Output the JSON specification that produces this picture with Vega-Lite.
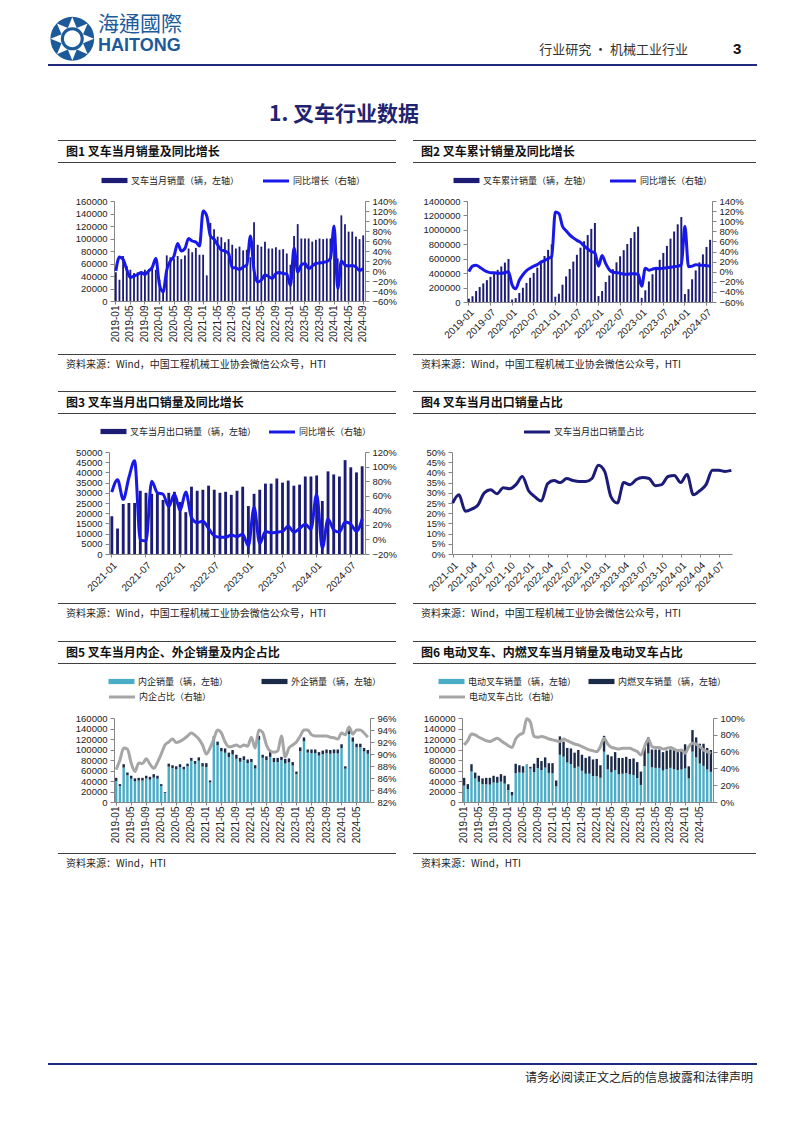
{
"$schema":"https://vega.github.io/schema/vega-lite/v6.json",
"padding":{"left":48,"top":14,"right":0,"bottom":0},
"background":"white",
"config":{
 "font":"Noto Sans CJK SC",
 "view":{"stroke":null},
 "axis":{"grid":false,"domainColor":"#858585","tickColor":"#858585","labelColor":"#222222","labelFont":"Liberation Sans","tickSize":3,"domainWidth":1},
 "axisX":{"labelFontSize":10,"labelPadding":2},
 "axisY":{"labelFontSize":9.5,"labelPadding":3,"tickSize":4},
 "legend":{"labelFont":"Noto Sans CJK SC","labelFontSize":9,"labelColor":"#222222","labelLimit":300},
 "title":{"font":"Noto Sans CJK SC","color":"#111111"}
},
"datasets":{
"d1":[
{"m":"2019-01","v":46000,"g":0.00},{"m":"2019-02","v":34000,"g":0.28},{"m":"2019-03","v":72000,"g":0.23},{"m":"2019-04","v":56000,"g":0.03},{"m":"2019-05","v":50000,"g":-0.13},{"m":"2019-06","v":45000,"g":-0.10},{"m":"2019-07","v":46000,"g":-0.07},{"m":"2019-08","v":46000,"g":-0.03},{"m":"2019-09","v":50000,"g":-0.07},{"m":"2019-10","v":48000,"g":0.00},{"m":"2019-11","v":53000,"g":0.07},{"m":"2019-12","v":50000,"g":0.25},
{"m":"2020-01","v":34000,"g":-0.27},{"m":"2020-02","v":19000,"g":-0.42},{"m":"2020-03","v":73000,"g":0.02},{"m":"2020-04","v":70000,"g":0.20},{"m":"2020-05","v":68000,"g":0.30},{"m":"2020-06","v":72000,"g":0.55},{"m":"2020-07","v":67000,"g":0.40},{"m":"2020-08","v":73000,"g":0.45},{"m":"2020-09","v":84000,"g":0.65},{"m":"2020-10","v":78000,"g":0.60},{"m":"2020-11","v":85000,"g":0.58},{"m":"2020-12","v":74000,"g":0.50},
{"m":"2021-01","v":74000,"g":1.20},{"m":"2021-02","v":41000,"g":1.10},{"m":"2021-03","v":125000,"g":0.70},{"m":"2021-04","v":115000,"g":0.64},{"m":"2021-05","v":103000,"g":0.52},{"m":"2021-06","v":102000,"g":0.42},{"m":"2021-07","v":94000,"g":0.40},{"m":"2021-08","v":99000,"g":0.35},{"m":"2021-09","v":90000,"g":0.07},{"m":"2021-10","v":84000,"g":0.06},{"m":"2021-11","v":87000,"g":0.03},{"m":"2021-12","v":81000,"g":0.08},
{"m":"2022-01","v":82000,"g":0.12},{"m":"2022-02","v":70000,"g":0.70},{"m":"2022-03","v":126000,"g":0.01},{"m":"2022-04","v":90000,"g":-0.22},{"m":"2022-05","v":87000,"g":-0.18},{"m":"2022-06","v":95000,"g":-0.08},{"m":"2022-07","v":84000,"g":-0.11},{"m":"2022-08","v":84000,"g":-0.15},{"m":"2022-09","v":86000,"g":-0.05},{"m":"2022-10","v":82000,"g":-0.03},{"m":"2022-11","v":83000,"g":-0.05},{"m":"2022-12","v":76000,"g":-0.06},
{"m":"2023-01","v":58000,"g":-0.29},{"m":"2023-02","v":104000,"g":0.46},{"m":"2023-03","v":123000,"g":-0.02},{"m":"2023-04","v":100000,"g":0.12},{"m":"2023-05","v":100000,"g":0.15},{"m":"2023-06","v":100000,"g":0.05},{"m":"2023-07","v":95000,"g":0.10},{"m":"2023-08","v":98000,"g":0.15},{"m":"2023-09","v":100000,"g":0.16},{"m":"2023-10","v":99000,"g":0.17},{"m":"2023-11","v":100000,"g":0.19},{"m":"2023-12","v":100000,"g":0.25},
{"m":"2024-01","v":110000,"g":0.90},{"m":"2024-02","v":68000,"g":-0.35},{"m":"2024-03","v":137000,"g":0.20},{"m":"2024-04","v":123000,"g":0.12},{"m":"2024-05","v":111000,"g":0.10},{"m":"2024-06","v":111000,"g":0.11},{"m":"2024-07","v":103000,"g":0.08},{"m":"2024-08","v":99000,"g":0.01},{"m":"2024-09","v":105000,"g":0.05}
],
"d2":[
{"m":"2019-01","c":46000,"g":0.00},{"m":"2019-02","c":80000,"g":0.11},{"m":"2019-03","c":152000,"g":0.13},{"m":"2019-04","c":208000,"g":0.09},{"m":"2019-05","c":258000,"g":0.04},{"m":"2019-06","c":303000,"g":0.00},{"m":"2019-07","c":349000,"g":-0.02},{"m":"2019-08","c":395000,"g":-0.02},{"m":"2019-09","c":445000,"g":-0.03},{"m":"2019-10","c":493000,"g":-0.03},{"m":"2019-11","c":546000,"g":-0.02},{"m":"2019-12","c":596000,"g":0.00},
{"m":"2020-01","c":34000,"g":-0.26},{"m":"2020-02","c":53000,"g":-0.34},{"m":"2020-03","c":126000,"g":-0.17},{"m":"2020-04","c":196000,"g":-0.06},{"m":"2020-05","c":264000,"g":0.02},{"m":"2020-06","c":336000,"g":0.07},{"m":"2020-07","c":403000,"g":0.11},{"m":"2020-08","c":476000,"g":0.14},{"m":"2020-09","c":560000,"g":0.19},{"m":"2020-10","c":638000,"g":0.22},{"m":"2020-11","c":723000,"g":0.26},{"m":"2020-12","c":797000,"g":0.30},
{"m":"2021-01","c":74000,"g":1.18},{"m":"2021-02","c":115000,"g":1.15},{"m":"2021-03","c":240000,"g":0.90},{"m":"2021-04","c":355000,"g":0.81},{"m":"2021-05","c":458000,"g":0.73},{"m":"2021-06","c":560000,"g":0.67},{"m":"2021-07","c":654000,"g":0.62},{"m":"2021-08","c":753000,"g":0.58},{"m":"2021-09","c":843000,"g":0.51},{"m":"2021-10","c":927000,"g":0.45},{"m":"2021-11","c":1014000,"g":0.40},{"m":"2021-12","c":1095000,"g":0.37},
{"m":"2022-01","c":82000,"g":0.11},{"m":"2022-02","c":152000,"g":0.32},{"m":"2022-03","c":278000,"g":0.16},{"m":"2022-04","c":368000,"g":0.04},{"m":"2022-05","c":455000,"g":-0.01},{"m":"2022-06","c":550000,"g":-0.02},{"m":"2022-07","c":634000,"g":-0.03},{"m":"2022-08","c":718000,"g":-0.05},{"m":"2022-09","c":804000,"g":-0.05},{"m":"2022-10","c":886000,"g":-0.04},{"m":"2022-11","c":969000,"g":-0.04},{"m":"2022-12","c":1045000,"g":-0.05},
{"m":"2023-01","c":58000,"g":-0.29},{"m":"2023-02","c":162000,"g":0.07},{"m":"2023-03","c":285000,"g":0.03},{"m":"2023-04","c":385000,"g":0.05},{"m":"2023-05","c":485000,"g":0.07},{"m":"2023-06","c":585000,"g":0.06},{"m":"2023-07","c":680000,"g":0.07},{"m":"2023-08","c":778000,"g":0.08},{"m":"2023-09","c":878000,"g":0.09},{"m":"2023-10","c":977000,"g":0.10},{"m":"2023-11","c":1077000,"g":0.11},{"m":"2023-12","c":1177000,"g":0.13},
{"m":"2024-01","c":110000,"g":0.90},{"m":"2024-02","c":178000,"g":0.10},{"m":"2024-03","c":315000,"g":0.11},{"m":"2024-04","c":438000,"g":0.14},{"m":"2024-05","c":549000,"g":0.13},{"m":"2024-06","c":660000,"g":0.13},{"m":"2024-07","c":763000,"g":0.12},{"m":"2024-08","c":862000,"g":0.11}
],
"d3":[
{"m":"2021-01","x":18500,"g":0.65},{"m":"2021-02","x":12500,"g":0.82},{"m":"2021-03","x":24500,"g":0.55},{"m":"2021-04","x":25000,"g":0.85},{"m":"2021-05","x":25000,"g":1.08},{"m":"2021-06","x":31000,"g":-0.01},{"m":"2021-07","x":30000,"g":-0.02},{"m":"2021-08","x":29500,"g":0.80},{"m":"2021-09","x":29500,"g":0.64},{"m":"2021-10","x":26500,"g":0.62},{"m":"2021-11","x":30000,"g":0.45},{"m":"2021-12","x":30500,"g":0.62},
{"m":"2022-01","x":25500,"g":0.40},{"m":"2022-02","x":20500,"g":0.65},{"m":"2022-03","x":33000,"g":0.30},{"m":"2022-04","x":31000,"g":0.23},{"m":"2022-05","x":31500,"g":0.25},{"m":"2022-06","x":33500,"g":0.15},{"m":"2022-07","x":31500,"g":0.05},{"m":"2022-08","x":30000,"g":0.03},{"m":"2022-09","x":30500,"g":0.03},{"m":"2022-10","x":29000,"g":0.06},{"m":"2022-11","x":31000,"g":0.04},{"m":"2022-12","x":33000,"g":0.07},
{"m":"2023-01","x":23500,"g":-0.09},{"m":"2023-02","x":29500,"g":0.44},{"m":"2023-03","x":31500,"g":-0.06},{"m":"2023-04","x":34500,"g":0.11},{"m":"2023-05","x":34500,"g":0.09},{"m":"2023-06","x":37000,"g":0.10},{"m":"2023-07","x":35000,"g":0.11},{"m":"2023-08","x":36000,"g":0.18},{"m":"2023-09","x":33500,"g":0.10},{"m":"2023-10","x":34000,"g":0.15},{"m":"2023-11","x":38000,"g":0.21},{"m":"2023-12","x":38000,"g":0.14},
{"m":"2024-01","x":38500,"g":0.62},{"m":"2024-02","x":26000,"g":-0.12},{"m":"2024-03","x":40500,"g":0.28},{"m":"2024-04","x":39000,"g":0.13},{"m":"2024-05","x":38000,"g":0.10},{"m":"2024-06","x":46000,"g":0.24},{"m":"2024-07","x":42500,"g":0.21},{"m":"2024-08","x":40000,"g":0.11},{"m":"2024-09","x":43000,"g":0.28}
],
"d4":[
{"m":"2021-01","s":0.25},{"m":"2021-02","s":0.29},{"m":"2021-03","s":0.21},{"m":"2021-04","s":0.22},{"m":"2021-05","s":0.24},{"m":"2021-06","s":0.30},{"m":"2021-07","s":0.315},{"m":"2021-08","s":0.295},{"m":"2021-09","s":0.325},{"m":"2021-10","s":0.32},{"m":"2021-11","s":0.34},{"m":"2021-12","s":0.38},
{"m":"2022-01","s":0.31},{"m":"2022-02","s":0.28},{"m":"2022-03","s":0.26},{"m":"2022-04","s":0.345},{"m":"2022-05","s":0.36},{"m":"2022-06","s":0.35},{"m":"2022-07","s":0.37},{"m":"2022-08","s":0.36},{"m":"2022-09","s":0.355},{"m":"2022-10","s":0.355},{"m":"2022-11","s":0.37},{"m":"2022-12","s":0.435},
{"m":"2023-01","s":0.405},{"m":"2023-02","s":0.28},{"m":"2023-03","s":0.25},{"m":"2023-04","s":0.35},{"m":"2023-05","s":0.34},{"m":"2023-06","s":0.365},{"m":"2023-07","s":0.375},{"m":"2023-08","s":0.37},{"m":"2023-09","s":0.335},{"m":"2023-10","s":0.34},{"m":"2023-11","s":0.38},{"m":"2023-12","s":0.385},
{"m":"2024-01","s":0.35},{"m":"2024-02","s":0.39},{"m":"2024-03","s":0.29},{"m":"2024-04","s":0.31},{"m":"2024-05","s":0.34},{"m":"2024-06","s":0.41},{"m":"2024-07","s":0.41},{"m":"2024-08","s":0.405},{"m":"2024-09","s":0.41}
],
"d5":[
{"m":"2019-01","a":40200,"t":46000,"r":0.874},{"m":"2019-02","a":30300,"t":34000,"r":0.89},{"m":"2019-03","a":65500,"t":72000,"r":0.91},{"m":"2019-04","a":50800,"t":56000,"r":0.908},{"m":"2019-05","a":44300,"t":50000,"r":0.885},{"m":"2019-06","a":39200,"t":45000,"r":0.871},{"m":"2019-07","a":40700,"t":46000,"r":0.885},{"m":"2019-08","a":40700,"t":46000,"r":0.884},{"m":"2019-09","a":44600,"t":50000,"r":0.892},{"m":"2019-10","a":42400,"t":48000,"r":0.883},{"m":"2019-11","a":46400,"t":53000,"r":0.876},{"m":"2019-12","a":44300,"t":50000,"r":0.886},
{"m":"2020-01","a":30600,"t":34000,"r":0.90},{"m":"2020-02","a":17400,"t":19000,"r":0.915},{"m":"2020-03","a":67200,"t":73000,"r":0.92},{"m":"2020-04","a":64800,"t":70000,"r":0.925},{"m":"2020-05","a":62500,"t":68000,"r":0.919},{"m":"2020-06","a":66300,"t":72000,"r":0.921},{"m":"2020-07","a":62000,"t":67000,"r":0.925},{"m":"2020-08","a":67900,"t":73000,"r":0.93},{"m":"2020-09","a":78500,"t":84000,"r":0.935},{"m":"2020-10","a":72600,"t":78000,"r":0.931},{"m":"2020-11","a":78600,"t":85000,"r":0.925},{"m":"2020-12","a":67700,"t":74000,"r":0.915},
{"m":"2021-01","a":66600,"t":74000,"r":0.90},{"m":"2021-02","a":37300,"t":41000,"r":0.91},{"m":"2021-03","a":115600,"t":125000,"r":0.925},{"m":"2021-04","a":108100,"t":115000,"r":0.94},{"m":"2021-05","a":96300,"t":103000,"r":0.935},{"m":"2021-06","a":93800,"t":102000,"r":0.92},{"m":"2021-07","a":85700,"t":94000,"r":0.912},{"m":"2021-08","a":90400,"t":99000,"r":0.913},{"m":"2021-09","a":82400,"t":90000,"r":0.915},{"m":"2021-10","a":76600,"t":84000,"r":0.912},{"m":"2021-11","a":79600,"t":87000,"r":0.915},{"m":"2021-12","a":74000,"t":81000,"r":0.913},
{"m":"2022-01","a":76100,"t":82000,"r":0.928},{"m":"2022-02","a":63700,"t":70000,"r":0.91},{"m":"2022-03","a":118400,"t":126000,"r":0.94},{"m":"2022-04","a":84200,"t":90000,"r":0.936},{"m":"2022-05","a":79600,"t":87000,"r":0.915},{"m":"2022-06","a":86000,"t":95000,"r":0.905},{"m":"2022-07","a":75900,"t":84000,"r":0.903},{"m":"2022-08","a":76000,"t":84000,"r":0.905},{"m":"2022-09","a":80000,"t":86000,"r":0.93},{"m":"2022-10","a":73400,"t":82000,"r":0.895},{"m":"2022-11","a":75500,"t":83000,"r":0.91},{"m":"2022-12","a":69500,"t":76000,"r":0.915},
{"m":"2023-01","a":53400,"t":58000,"r":0.92},{"m":"2023-02","a":96700,"t":104000,"r":0.93},{"m":"2023-03","a":115600,"t":123000,"r":0.94},{"m":"2023-04","a":94000,"t":100000,"r":0.94},{"m":"2023-05","a":93200,"t":100000,"r":0.932},{"m":"2023-06","a":93000,"t":100000,"r":0.93},{"m":"2023-07","a":88400,"t":95000,"r":0.93},{"m":"2023-08","a":91100,"t":98000,"r":0.93},{"m":"2023-09","a":93000,"t":100000,"r":0.93},{"m":"2023-10","a":91900,"t":99000,"r":0.928},{"m":"2023-11","a":92700,"t":100000,"r":0.927},{"m":"2023-12","a":92500,"t":100000,"r":0.925},
{"m":"2024-01","a":102900,"t":110000,"r":0.935},{"m":"2024-02","a":63400,"t":68000,"r":0.932},{"m":"2024-03","a":129500,"t":137000,"r":0.945},{"m":"2024-04","a":114800,"t":123000,"r":0.933},{"m":"2024-05","a":104300,"t":111000,"r":0.94},{"m":"2024-06","a":104300,"t":111000,"r":0.94},{"m":"2024-07","a":96300,"t":103000,"r":0.935},{"m":"2024-08","a":91900,"t":99000,"r":0.928}
],
"d6":[
{"m":"2019-01","e":31300,"t":46000,"r":0.68},{"m":"2019-02","e":24800,"t":34000,"r":0.73},{"m":"2019-03","e":58300,"t":72000,"r":0.81},{"m":"2019-04","e":44800,"t":56000,"r":0.80},{"m":"2019-05","e":38500,"t":50000,"r":0.77},{"m":"2019-06","e":33800,"t":45000,"r":0.75},{"m":"2019-07","e":33600,"t":46000,"r":0.73},{"m":"2019-08","e":33100,"t":46000,"r":0.72},{"m":"2019-09","e":37000,"t":50000,"r":0.74},{"m":"2019-10","e":36500,"t":48000,"r":0.76},{"m":"2019-11","e":38700,"t":53000,"r":0.73},{"m":"2019-12","e":35000,"t":50000,"r":0.70},
{"m":"2020-01","e":22800,"t":34000,"r":0.67},{"m":"2020-02","e":12400,"t":19000,"r":0.65},{"m":"2020-03","e":54800,"t":73000,"r":0.75},{"m":"2020-04","e":56000,"t":70000,"r":0.80},{"m":"2020-05","e":55800,"t":68000,"r":0.82},{"m":"2020-06","e":71300,"t":72000,"r":0.99},{"m":"2020-07","e":63700,"t":67000,"r":0.95},{"m":"2020-08","e":56900,"t":73000,"r":0.78},{"m":"2020-09","e":64700,"t":84000,"r":0.77},{"m":"2020-10","e":60800,"t":78000,"r":0.78},{"m":"2020-11","e":65500,"t":85000,"r":0.77},{"m":"2020-12","e":55500,"t":74000,"r":0.75},
{"m":"2021-01","e":54800,"t":74000,"r":0.74},{"m":"2021-02","e":29900,"t":41000,"r":0.73},{"m":"2021-03","e":90000,"t":125000,"r":0.72},{"m":"2021-04","e":86300,"t":115000,"r":0.75},{"m":"2021-05","e":75200,"t":103000,"r":0.73},{"m":"2021-06","e":72400,"t":102000,"r":0.71},{"m":"2021-07","e":64900,"t":94000,"r":0.69},{"m":"2021-08","e":67300,"t":99000,"r":0.68},{"m":"2021-09","e":59400,"t":90000,"r":0.66},{"m":"2021-10","e":53800,"t":84000,"r":0.64},{"m":"2021-11","e":53900,"t":87000,"r":0.62},{"m":"2021-12","e":49400,"t":81000,"r":0.61},
{"m":"2022-01","e":49200,"t":82000,"r":0.60},{"m":"2022-02","e":46200,"t":70000,"r":0.66},{"m":"2022-03","e":95800,"t":126000,"r":0.76},{"m":"2022-04","e":62100,"t":90000,"r":0.69},{"m":"2022-05","e":56600,"t":87000,"r":0.65},{"m":"2022-06","e":60800,"t":95000,"r":0.64},{"m":"2022-07","e":52900,"t":84000,"r":0.63},{"m":"2022-08","e":53800,"t":84000,"r":0.64},{"m":"2022-09","e":55000,"t":86000,"r":0.64},{"m":"2022-10","e":52500,"t":82000,"r":0.64},{"m":"2022-11","e":51500,"t":83000,"r":0.62},{"m":"2022-12","e":45600,"t":76000,"r":0.60},
{"m":"2023-01","e":32500,"t":58000,"r":0.56},{"m":"2023-02","e":68600,"t":104000,"r":0.66},{"m":"2023-03","e":92300,"t":123000,"r":0.75},{"m":"2023-04","e":66000,"t":100000,"r":0.66},{"m":"2023-05","e":65000,"t":100000,"r":0.65},{"m":"2023-06","e":65000,"t":100000,"r":0.65},{"m":"2023-07","e":59900,"t":95000,"r":0.63},{"m":"2023-08","e":62700,"t":98000,"r":0.64},{"m":"2023-09","e":65000,"t":100000,"r":0.65},{"m":"2023-10","e":62400,"t":99000,"r":0.63},{"m":"2023-11","e":61000,"t":100000,"r":0.61},{"m":"2023-12","e":62000,"t":100000,"r":0.62},
{"m":"2024-01","e":63800,"t":110000,"r":0.58},{"m":"2024-02","e":44900,"t":68000,"r":0.66},{"m":"2024-03","e":95900,"t":137000,"r":0.70},{"m":"2024-04","e":84900,"t":123000,"r":0.69},{"m":"2024-05","e":73300,"t":111000,"r":0.66},{"m":"2024-06","e":68800,"t":111000,"r":0.62},{"m":"2024-07","e":61800,"t":103000,"r":0.60},{"m":"2024-08","e":57400,"t":99000,"r":0.58}
],
"none":[]
},
"spacing":0,
"resolve":{"scale":{"color":"independent","stroke":"independent","fill":"independent"},"legend":{"color":"independent","stroke":"independent","fill":"independent"}},
"vconcat":[
{"hconcat":[
 {"width":41,"height":2,"data":{"name":"none"},"mark":"text","encoding":{"text":{"value":""}},"view":{"fill":"#202a7d","stroke":null},"title":{"text":"❂","font":"DejaVu Sans","fontSize":58,"fontWeight":"normal","color":"#1d5a9a","anchor":"start","dx":0,"offset":-8}},
 {"width":300,"height":2,"data":{"name":"none"},"mark":"text","encoding":{"text":{"value":""}},"view":{"fill":"#202a7d","stroke":null},"title":{"text":"海通國際","subtitle":"HAITONG","font":"Noto Sans CJK TC","fontSize":21,"fontWeight":"normal","color":"#1d5a9a","anchor":"start","dx":9,"offset":9,"subtitleFont":"Liberation Sans","subtitleFontSize":18,"subtitleFontWeight":"bold","subtitleColor":"#1d5a9a","subtitlePadding":2}},
 {"width":301,"height":2,"data":{"name":"none"},"mark":"text","encoding":{"text":{"value":""}},"view":{"fill":"#202a7d","stroke":null},"title":{"text":"行业研究 • 机械工业行业","fontSize":13,"fontWeight":"normal","color":"#333333","anchor":"end","dx":-2,"offset":7}},
 {"width":67,"height":2,"data":{"name":"none"},"mark":"text","encoding":{"text":{"value":""}},"view":{"fill":"#202a7d","stroke":null},"title":{"text":"3","font":"Liberation Sans","fontSize":15,"fontWeight":"bold","color":"#111111","anchor":"start","dx":43,"offset":7}}
],"spacing":0,"bounds":"flush"},
{"width":709,"height":30,"data":{"name":"none"},"mark":"text","encoding":{"text":{"value":""}},"title":{"text":"1.  叉车行业数据","orient":"bottom","anchor":"start","dx":221,"offset":2,"fontSize":21,"fontWeight":"bold","color":"#1f2370"}},
{"width":1,"height":15,"data":{"name":"none"},"mark":"text","encoding":{"text":{"value":""}}},
{"vconcat":[
 {"hconcat":[
  {"width":10,"height":1,"data":{"name":"none"},"mark":"text","encoding":{"text":{"value":""}}},
  {"width":338,"height":1,"data":{"name":"none"},"mark":"text","encoding":{"text":{"value":""}},"view":{"fill":"#404040","stroke":null},"title":{"text":"图1  叉车当月销量及同比增长","orient":"bottom","anchor":"start","dx":8,"offset":6,"fontSize":12,"fontWeight":"bold"}},
  {"width":17,"height":1,"data":{"name":"none"},"mark":"text","encoding":{"text":{"value":""}}},
  {"width":343,"height":1,"data":{"name":"none"},"mark":"text","encoding":{"text":{"value":""}},"view":{"fill":"#404040","stroke":null},"title":{"text":"图2  叉车累计销量及同比增长","orient":"bottom","anchor":"start","dx":8,"offset":6,"fontSize":12,"fontWeight":"bold"}}
 ],"spacing":0,"bounds":"flush"},
 {"hconcat":[
  {"width":10,"height":1,"data":{"name":"none"},"mark":"text","encoding":{"text":{"value":""}}},
  {"width":338,"height":1,"data":{"name":"none"},"mark":"text","encoding":{"text":{"value":""}},"view":{"fill":"#404040","stroke":null}},
  {"width":17,"height":1,"data":{"name":"none"},"mark":"text","encoding":{"text":{"value":""}}},
  {"width":343,"height":1,"data":{"name":"none"},"mark":"text","encoding":{"text":{"value":""}},"view":{"fill":"#404040","stroke":null}}
 ],"spacing":0,"bounds":"flush"},
 {"hconcat":[
  {"width":66,"height":1,"data":{"name":"none"},"mark":"text","encoding":{"text":{"value":""}}},
  {"width":251,"height":100,"data":{"name":"d1"},
   "encoding":{"x":{"field":"m","type":"ordinal","title":null,"scale":{"paddingInner":0.5,"paddingOuter":0.25},"axis":{"values":["2019-01","2019-05","2019-09","2020-01","2020-05","2020-09","2021-01","2021-05","2021-09","2022-01","2022-05","2022-09","2023-01","2023-05","2023-09","2024-01","2024-05","2024-09"],"labelAngle":-90,"labelPadding":1,"labelOverlap":false}}},
   "layer":[
    {"mark":{"type":"bar"},"encoding":{"y":{"field":"v","type":"quantitative","title":null,"scale":{"domain":[0,160000],"nice":false},"axis":{"orient":"left","values":[0,20000,40000,60000,80000,100000,120000,140000,160000],"format":"d"}},"color":{"datum":"叉车当月销量（辆，左轴）","scale":{"range":["#1c1c74"]},"legend":{"orient":"none","legendX":-19,"legendY":-34,"padding":6,"direction":"horizontal","title":null,"symbolType":"M-2,-0.4H2V0.4H-2Z","symbolSize":169,"symbolOffset":6,"labelOffset":9}}}},
    {"mark":{"type":"line","strokeWidth":3,"interpolate":"monotone"},"encoding":{"y":{"field":"g","type":"quantitative","title":null,"scale":{"domain":[-0.6,1.4],"nice":false,"zero":false},"axis":{"orient":"right","values":[-0.6,-0.4,-0.2,0,0.2,0.4,0.6,0.8,1,1.2,1.4],"format":".0%"}},"stroke":{"datum":"同比增长（右轴）","scale":{"range":["#1818e8"]},"legend":{"orient":"none","legendX":142,"legendY":-34,"padding":6,"direction":"horizontal","title":null,"symbolType":"M-2,0H2","symbolSize":169,"symbolStrokeWidth":3,"symbolOffset":6,"labelOffset":9}}}}
   ],
   "resolve":{"scale":{"y":"independent"}}},
  {"width":102,"height":1,"data":{"name":"none"},"mark":"text","encoding":{"text":{"value":""}}},
  {"width":245,"height":101,"data":{"name":"d2"},
   "encoding":{"x":{"field":"m","type":"ordinal","title":null,"scale":{"paddingInner":0.45,"paddingOuter":0.25},"axis":{"values":["2019-01","2019-07","2020-01","2020-07","2021-01","2021-07","2022-01","2022-07","2023-01","2023-07","2024-01","2024-07"],"labelAngle":-45,"labelOverlap":false}}},
   "layer":[
    {"mark":{"type":"bar"},"encoding":{"y":{"field":"c","type":"quantitative","title":null,"scale":{"domain":[0,1400000],"nice":false},"axis":{"orient":"left","values":[0,200000,400000,600000,800000,1000000,1200000,1400000],"format":"d"}},"color":{"datum":"叉车累计销量（辆，左轴）","scale":{"range":["#1c1c74"]},"legend":{"orient":"none","legendX":-20,"legendY":-34,"padding":6,"direction":"horizontal","title":null,"symbolType":"M-2,-0.4H2V0.4H-2Z","symbolSize":169,"symbolOffset":6,"labelOffset":9}}}},
    {"mark":{"type":"line","strokeWidth":3,"interpolate":"monotone"},"encoding":{"y":{"field":"g","type":"quantitative","title":null,"scale":{"domain":[-0.6,1.4],"nice":false,"zero":false},"axis":{"orient":"right","values":[-0.6,-0.4,-0.2,0,0.2,0.4,0.6,0.8,1,1.2,1.4],"format":".0%"}},"stroke":{"datum":"同比增长（右轴）","scale":{"range":["#1818e8"]},"legend":{"orient":"none","legendX":136,"legendY":-34,"padding":6,"direction":"horizontal","title":null,"symbolType":"M-2,0H2","symbolSize":169,"symbolStrokeWidth":3,"symbolOffset":6,"labelOffset":9}}}}
   ],
   "resolve":{"scale":{"y":"independent"}}}
 ],"spacing":0,"bounds":"flush","resolve":{"scale":{"color":"independent","stroke":"independent","fill":"independent"},"legend":{"color":"independent","stroke":"independent","fill":"independent"}}},
 {"width":1,"height":4,"data":{"name":"none"},"mark":"text","encoding":{"text":{"value":""}}},
 {"hconcat":[
  {"width":10,"height":1,"data":{"name":"none"},"mark":"text","encoding":{"text":{"value":""}}},
  {"width":338,"height":1,"data":{"name":"none"},"mark":"text","encoding":{"text":{"value":""}},"view":{"fill":"#404040","stroke":null},"title":{"text":"资料来源：Wind，中国工程机械工业协会微信公众号，HTI","orient":"bottom","anchor":"start","dx":8,"offset":5,"fontSize":10,"fontWeight":"normal","color":"#222222"}},
  {"width":17,"height":1,"data":{"name":"none"},"mark":"text","encoding":{"text":{"value":""}}},
  {"width":343,"height":1,"data":{"name":"none"},"mark":"text","encoding":{"text":{"value":""}},"view":{"fill":"#404040","stroke":null},"title":{"text":"资料来源：Wind，中国工程机械工业协会微信公众号，HTI","orient":"bottom","anchor":"start","dx":8,"offset":5,"fontSize":10,"fontWeight":"normal","color":"#222222"}}
 ],"spacing":0,"bounds":"flush"}
],"spacing":4,"resolve":{"scale":{"color":"independent","stroke":"independent","fill":"independent"},"legend":{"color":"independent","stroke":"independent","fill":"independent"}}},
{"width":1,"height":21,"data":{"name":"none"},"mark":"text","encoding":{"text":{"value":""}}},
{"vconcat":[
 {"hconcat":[
  {"width":10,"height":1,"data":{"name":"none"},"mark":"text","encoding":{"text":{"value":""}}},
  {"width":338,"height":1,"data":{"name":"none"},"mark":"text","encoding":{"text":{"value":""}},"view":{"fill":"#404040","stroke":null},"title":{"text":"图3  叉车当月出口销量及同比增长","orient":"bottom","anchor":"start","dx":8,"offset":6,"fontSize":12,"fontWeight":"bold"}},
  {"width":17,"height":1,"data":{"name":"none"},"mark":"text","encoding":{"text":{"value":""}}},
  {"width":343,"height":1,"data":{"name":"none"},"mark":"text","encoding":{"text":{"value":""}},"view":{"fill":"#404040","stroke":null},"title":{"text":"图4  叉车当月出口销量占比","orient":"bottom","anchor":"start","dx":8,"offset":6,"fontSize":12,"fontWeight":"bold"}}
 ],"spacing":0,"bounds":"flush"},
 {"hconcat":[
  {"width":10,"height":1,"data":{"name":"none"},"mark":"text","encoding":{"text":{"value":""}}},
  {"width":338,"height":1,"data":{"name":"none"},"mark":"text","encoding":{"text":{"value":""}},"view":{"fill":"#404040","stroke":null}},
  {"width":17,"height":1,"data":{"name":"none"},"mark":"text","encoding":{"text":{"value":""}}},
  {"width":343,"height":1,"data":{"name":"none"},"mark":"text","encoding":{"text":{"value":""}},"view":{"fill":"#404040","stroke":null}}
 ],"spacing":0,"bounds":"flush"},
 {"hconcat":[
  {"width":61,"height":1,"data":{"name":"none"},"mark":"text","encoding":{"text":{"value":""}}},
  {"width":256,"height":102,"data":{"name":"d3"},
   "encoding":{"x":{"field":"m","type":"ordinal","title":null,"scale":{"paddingInner":0.5,"paddingOuter":0.25},"axis":{"values":["2021-01","2021-07","2022-01","2022-07","2023-01","2023-07","2024-01","2024-07"],"labelAngle":-45,"labelPadding":3,"labelOverlap":false}}},
   "layer":[
    {"mark":{"type":"bar"},"encoding":{"y":{"field":"x","type":"quantitative","title":null,"scale":{"domain":[0,50000],"nice":false},"axis":{"orient":"left","values":[0,5000,10000,15000,20000,25000,30000,35000,40000,45000,50000],"format":"d"}},"color":{"datum":"叉车当月出口销量（辆，左轴）","scale":{"range":["#1c1c74"]},"legend":{"orient":"none","legendX":-15,"legendY":-34,"padding":6,"direction":"horizontal","title":null,"symbolType":"M-2,-0.4H2V0.4H-2Z","symbolSize":169,"symbolOffset":6,"labelOffset":9}}}},
    {"mark":{"type":"line","strokeWidth":3,"interpolate":"monotone"},"encoding":{"y":{"field":"g","type":"quantitative","title":null,"scale":{"domain":[-0.2,1.2],"nice":false,"zero":false},"axis":{"orient":"right","values":[-0.2,0,0.2,0.4,0.6,0.8,1,1.2],"format":".0%"}},"stroke":{"datum":"同比增长（右轴）","scale":{"range":["#1818e8"]},"legend":{"orient":"none","legendX":153,"legendY":-34,"padding":6,"direction":"horizontal","title":null,"symbolType":"M-2,0H2","symbolSize":169,"symbolStrokeWidth":3,"symbolOffset":6,"labelOffset":9}}}}
   ],
   "resolve":{"scale":{"y":"independent"}}},
  {"width":87,"height":1,"data":{"name":"none"},"mark":"text","encoding":{"text":{"value":""}}},
  {"width":280,"height":102,"data":{"name":"d4"},
   "mark":{"type":"line","strokeWidth":3,"interpolate":"monotone"},
   "encoding":{
    "x":{"field":"m","type":"ordinal","title":null,"scale":{"type":"point","padding":0.1},"axis":{"values":["2021-01","2021-04","2021-07","2021-10","2022-01","2022-04","2022-07","2022-10","2023-01","2023-04","2023-07","2023-10","2024-01","2024-04","2024-07"],"labelAngle":-45,"labelPadding":3,"labelOverlap":false}},
    "y":{"field":"s","type":"quantitative","title":null,"scale":{"domain":[0,0.5],"nice":false},"axis":{"values":[0,0.05,0.1,0.15,0.2,0.25,0.3,0.35,0.4,0.45,0.5],"format":".0%"}},
    "stroke":{"datum":"叉车当月出口销量占比","scale":{"range":["#1c1c78"]},"legend":{"orient":"none","legendX":65,"legendY":-34,"padding":6,"direction":"horizontal","title":null,"symbolType":"M-2,0H2","symbolSize":169,"symbolStrokeWidth":3,"symbolOffset":6,"labelOffset":9}}
   }}
 ],"spacing":0,"bounds":"flush","resolve":{"scale":{"color":"independent","stroke":"independent","fill":"independent"},"legend":{"color":"independent","stroke":"independent","fill":"independent"}}},
 {"width":1,"height":1,"data":{"name":"none"},"mark":"text","encoding":{"text":{"value":""}}},
 {"hconcat":[
  {"width":10,"height":1,"data":{"name":"none"},"mark":"text","encoding":{"text":{"value":""}}},
  {"width":338,"height":1,"data":{"name":"none"},"mark":"text","encoding":{"text":{"value":""}},"view":{"fill":"#404040","stroke":null},"title":{"text":"资料来源：Wind，中国工程机械工业协会微信公众号，HTI","orient":"bottom","anchor":"start","dx":8,"offset":5,"fontSize":10,"fontWeight":"normal","color":"#222222"}},
  {"width":17,"height":1,"data":{"name":"none"},"mark":"text","encoding":{"text":{"value":""}}},
  {"width":343,"height":1,"data":{"name":"none"},"mark":"text","encoding":{"text":{"value":""}},"view":{"fill":"#404040","stroke":null},"title":{"text":"资料来源：Wind，中国工程机械工业协会微信公众号，HTI","orient":"bottom","anchor":"start","dx":8,"offset":5,"fontSize":10,"fontWeight":"normal","color":"#222222"}}
 ],"spacing":0,"bounds":"flush"}
],"spacing":4,"resolve":{"scale":{"color":"independent","stroke":"independent","fill":"independent"},"legend":{"color":"independent","stroke":"independent","fill":"independent"}}},
{"width":1,"height":22,"data":{"name":"none"},"mark":"text","encoding":{"text":{"value":""}}},
{"vconcat":[
 {"hconcat":[
  {"width":10,"height":1,"data":{"name":"none"},"mark":"text","encoding":{"text":{"value":""}}},
  {"width":338,"height":1,"data":{"name":"none"},"mark":"text","encoding":{"text":{"value":""}},"view":{"fill":"#404040","stroke":null},"title":{"text":"图5  叉车当月内企、外企销量及内企占比","orient":"bottom","anchor":"start","dx":8,"offset":6,"fontSize":12,"fontWeight":"bold"}},
  {"width":17,"height":1,"data":{"name":"none"},"mark":"text","encoding":{"text":{"value":""}}},
  {"width":343,"height":1,"data":{"name":"none"},"mark":"text","encoding":{"text":{"value":""}},"view":{"fill":"#404040","stroke":null},"title":{"text":"图6  电动叉车、内燃叉车当月销量及电动叉车占比","orient":"bottom","anchor":"start","dx":8,"offset":6,"fontSize":12,"fontWeight":"bold"}}
 ],"spacing":0,"bounds":"flush"},
 {"hconcat":[
  {"width":10,"height":1,"data":{"name":"none"},"mark":"text","encoding":{"text":{"value":""}}},
  {"width":338,"height":1,"data":{"name":"none"},"mark":"text","encoding":{"text":{"value":""}},"view":{"fill":"#404040","stroke":null}},
  {"width":17,"height":1,"data":{"name":"none"},"mark":"text","encoding":{"text":{"value":""}}},
  {"width":343,"height":1,"data":{"name":"none"},"mark":"text","encoding":{"text":{"value":""}},"view":{"fill":"#404040","stroke":null}}
 ],"spacing":0,"bounds":"flush"},
 {"hconcat":[
  {"width":66,"height":1,"data":{"name":"none"},"mark":"text","encoding":{"text":{"value":""}}},
  {"width":256,"height":84,"data":{"name":"d5"},
   "encoding":{"x":{"field":"m","type":"ordinal","title":null,"scale":{"paddingInner":0.35,"paddingOuter":0.25},"axis":{"values":["2019-01","2019-05","2019-09","2020-01","2020-05","2020-09","2021-01","2021-05","2021-09","2022-01","2022-05","2022-09","2023-01","2023-05","2023-09","2024-01","2024-05"],"labelAngle":-90,"labelPadding":1,"labelOverlap":false}}},
   "layer":[
    {"mark":{"type":"bar"},"encoding":{"y":{"field":"a","type":"quantitative","title":null,"stack":null,"scale":{"domain":[0,160000],"nice":false},"axis":{"orient":"left","values":[0,20000,40000,60000,80000,100000,120000,140000,160000],"format":"d"}},"color":{"datum":"内企销量（辆，左轴）","scale":{"range":["#4bacc6"]},"legend":{"orient":"none","legendX":-12,"legendY":-50,"padding":6,"direction":"horizontal","title":null,"symbolType":"M-2,-0.4H2V0.4H-2Z","symbolSize":169,"symbolOffset":6,"labelOffset":9}}}},
    {"mark":{"type":"bar"},"encoding":{"y":{"field":"t","type":"quantitative","title":null,"scale":{"domain":[0,160000],"nice":false},"axis":null},"y2":{"field":"a"},"fill":{"datum":"外企销量（辆，左轴）","scale":{"range":["#1b2a47"]},"legend":{"orient":"none","legendX":141,"legendY":-50,"padding":6,"direction":"horizontal","title":null,"symbolType":"M-2,-0.4H2V0.4H-2Z","symbolSize":169,"symbolOffset":6,"labelOffset":9}}}},
    {"mark":{"type":"line","strokeWidth":3,"interpolate":"monotone"},"encoding":{"y":{"field":"r","type":"quantitative","title":null,"scale":{"domain":[0.82,0.96],"nice":false,"zero":false},"axis":{"orient":"right","values":[0.82,0.84,0.86,0.88,0.9,0.92,0.94,0.96],"format":".0%"}},"stroke":{"datum":"内企占比（右轴）","scale":{"range":["#a6a6a6"]},"legend":{"orient":"none","legendX":-6,"legendY":-29,"padding":0,"direction":"horizontal","title":null,"symbolType":"M-2,0H2","symbolSize":169,"symbolStrokeWidth":3,"symbolOffset":6,"labelOffset":9}}}}
   ],
   "resolve":{"scale":{"y":"independent"}}},
  {"width":92,"height":1,"data":{"name":"none"},"mark":"text","encoding":{"text":{"value":""}}},
  {"width":251,"height":84,"data":{"name":"d6"},
   "encoding":{"x":{"field":"m","type":"ordinal","title":null,"scale":{"paddingInner":0.35,"paddingOuter":0.25},"axis":{"values":["2019-01","2019-05","2019-09","2020-01","2020-05","2020-09","2021-01","2021-05","2021-09","2022-01","2022-05","2022-09","2023-01","2023-05","2023-09","2024-01","2024-05"],"labelAngle":-90,"labelPadding":1,"labelOverlap":false}}},
   "layer":[
    {"mark":{"type":"bar"},"encoding":{"y":{"field":"e","type":"quantitative","title":null,"stack":null,"scale":{"domain":[0,160000],"nice":false},"axis":{"orient":"left","values":[0,20000,40000,60000,80000,100000,120000,140000,160000],"format":"d"}},"color":{"datum":"电动叉车销量（辆，左轴）","scale":{"range":["#4bacc6"]},"legend":{"orient":"none","legendX":-30,"legendY":-50,"padding":6,"direction":"horizontal","title":null,"symbolType":"M-2,-0.4H2V0.4H-2Z","symbolSize":169,"symbolOffset":6,"labelOffset":9}}}},
    {"mark":{"type":"bar"},"encoding":{"y":{"field":"t","type":"quantitative","title":null,"scale":{"domain":[0,160000],"nice":false},"axis":null},"y2":{"field":"e"},"fill":{"datum":"内燃叉车销量（辆，左轴）","scale":{"range":["#1b2a47"]},"legend":{"orient":"none","legendX":120,"legendY":-50,"padding":6,"direction":"horizontal","title":null,"symbolType":"M-2,-0.4H2V0.4H-2Z","symbolSize":169,"symbolOffset":6,"labelOffset":9}}}},
    {"mark":{"type":"line","strokeWidth":3,"interpolate":"monotone"},"encoding":{"y":{"field":"r","type":"quantitative","title":null,"scale":{"domain":[0,1],"nice":false},"axis":{"orient":"right","values":[0,0.2,0.4,0.6,0.8,1],"format":".0%"}},"stroke":{"datum":"电动叉车占比（右轴）","scale":{"range":["#a6a6a6"]},"legend":{"orient":"none","legendX":-24,"legendY":-29,"padding":0,"direction":"horizontal","title":null,"symbolType":"M-2,0H2","symbolSize":169,"symbolStrokeWidth":3,"symbolOffset":6,"labelOffset":9}}}}
   ],
   "resolve":{"scale":{"y":"independent"}}}
 ],"spacing":0,"bounds":"flush","resolve":{"scale":{"color":"independent","stroke":"independent","fill":"independent"},"legend":{"color":"independent","stroke":"independent","fill":"independent"}}},
 {"width":1,"height":2,"data":{"name":"none"},"mark":"text","encoding":{"text":{"value":""}}},
 {"hconcat":[
  {"width":10,"height":1,"data":{"name":"none"},"mark":"text","encoding":{"text":{"value":""}}},
  {"width":338,"height":1,"data":{"name":"none"},"mark":"text","encoding":{"text":{"value":""}},"view":{"fill":"#404040","stroke":null},"title":{"text":"资料来源：Wind，HTI","orient":"bottom","anchor":"start","dx":8,"offset":5,"fontSize":10,"fontWeight":"normal","color":"#222222"}},
  {"width":17,"height":1,"data":{"name":"none"},"mark":"text","encoding":{"text":{"value":""}}},
  {"width":343,"height":1,"data":{"name":"none"},"mark":"text","encoding":{"text":{"value":""}},"view":{"fill":"#404040","stroke":null},"title":{"text":"资料来源：Wind，HTI","orient":"bottom","anchor":"start","dx":8,"offset":5,"fontSize":10,"fontWeight":"normal","color":"#222222"}}
 ],"spacing":0,"bounds":"flush"}
],"spacing":4,"resolve":{"scale":{"color":"independent","stroke":"independent","fill":"independent"},"legend":{"color":"independent","stroke":"independent","fill":"independent"}}},
{"width":1,"height":194,"data":{"name":"none"},"mark":"text","encoding":{"text":{"value":""}}},
{"width":709,"height":2,"data":{"name":"none"},"mark":"text","encoding":{"text":{"value":""}},"view":{"fill":"#202a7d","stroke":null},"title":{"text":"请务必阅读正文之后的信息披露和法律声明","orient":"bottom","anchor":"end","dx":-4,"offset":8,"fontSize":12,"fontWeight":"normal","color":"#222222"}}
]
}
